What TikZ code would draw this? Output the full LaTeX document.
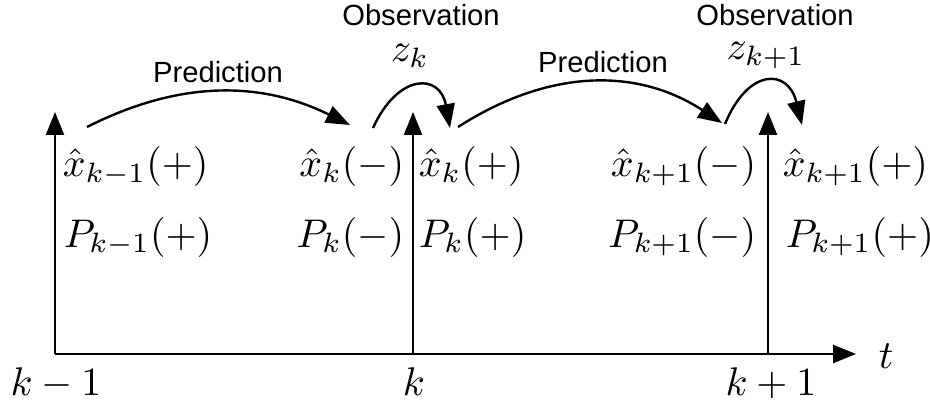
\documentclass[tikz,border=0pt]{standalone}
\usepackage{amsmath,amssymb}
\usepackage{fontspec}
\newfontfamily\labelfont{Liberation Sans}
\usepackage{xcolor}
\usepackage{tikz}
\usetikzlibrary{arrows.meta,positioning,calc}

\begin{document}
\begin{tikzpicture}[
  x=0.25pt, y=-0.25pt,
  timeaxis/.style={line width=0.65pt, -{Triangle[length=5.75pt,width=4.5pt]}},
  marker/.style={line width=0.6pt, -{Triangle[length=5.75pt,width=4.5pt]}},
  flow/.style={line width=0.6pt, -{Triangle[length=6pt,width=4.5pt]}},
  word/.style={font=\labelfont\fontsize{7.3}{9}\selectfont, inner sep=0pt},
  est/.style={inner sep=0pt},
  every node/.style={inner sep=0pt}
]
\useasboundingbox (0,0) rectangle (930,406);
% time axis
\coordinate (origin) at (55,354);
\coordinate (tend) at (856,354);
\draw[timeaxis] (origin) -- (tend);
\node[anchor=base] (tlabel) at (886,368) {$t$};
% time instants
\coordinate (km1) at (55,354);   \coordinate (km1top) at (55,112);
\coordinate (k0) at (413,354);   \coordinate (k0top) at (413,112);
\coordinate (kp1) at (768,354);  \coordinate (kp1top) at (768,112);
\draw[marker] (km1) -- (km1top);
\draw[marker] (k0) -- (k0top);
\draw[marker] (kp1) -- (kp1top);
\node[anchor=base] (lkm1) at (56,395) {$k-1$};
\node[anchor=base] (lk0) at (414,395) {$k$};
\node[anchor=base] (lkp1) at (771,395) {$k+1$};
% estimates at k-1
\node[est, anchor=base west] (xkm1p) at (62,177) {$\hat{x}_{k-1}(+)$};
\node[est, anchor=base west] (Pkm1p) at (63,247) {$P_{k-1}(+)$};
% estimates at k
\node[est, anchor=base east] (xkm) at (405,177) {$\hat{x}_{k}(-)$};
\node[est, anchor=base east] (Pkm) at (405,247) {$P_{k}(-)$};
\node[est, anchor=base west] (xkp) at (418,177) {$\hat{x}_{k}(+)$};
\node[est, anchor=base west] (Pkp) at (418,247) {$P_{k}(+)$};
% estimates at k+1
\node[est, anchor=base east] (xk1m) at (757,177) {$\hat{x}_{k+1}(-)$};
\node[est, anchor=base east] (Pk1m) at (757,247) {$P_{k+1}(-)$};
\node[est, anchor=base west] (xk1p) at (782,177) {$\hat{x}_{k+1}(+)$};
\node[est, anchor=base west] (Pk1p) at (785,247) {$P_{k+1}(+)$};
% prediction steps
\coordinate (pred1s) at (87,127);  \coordinate (pred1e) at (350,125);
\coordinate (pred2s) at (458,127); \coordinate (pred2e) at (722,123);
\draw[flow] (pred1s) .. controls (180,80) and (261,81) .. (pred1e);
\draw[flow] (pred2s) .. controls (550,68) and (638,68) .. (pred2e);
\node[word, anchor=base] (pred1) at (218,83) {Prediction};
\node[word, anchor=base] (pred2) at (603,73) {Prediction};
% observation steps
\coordinate (obs1s) at (373,128); \coordinate (obs1e) at (450,128);
\coordinate (obs2s) at (725,124); \coordinate (obs2e) at (802,125);
\draw[flow] (obs1s) .. controls (398,73) and (440,73) .. (obs1e);
\draw[flow] (obs2s) .. controls (748,68) and (788,68) .. (obs2e);
\node[word, anchor=base] (obs1) at (421,26) {Observation};
\node[word, anchor=base] (obs2) at (775,26) {Observation};
\node[anchor=base] (zk) at (410,62) {$z_k$};
\node[anchor=base] (zk1) at (766,60) {$z_{k+1}$};
\end{tikzpicture}
\end{document}
